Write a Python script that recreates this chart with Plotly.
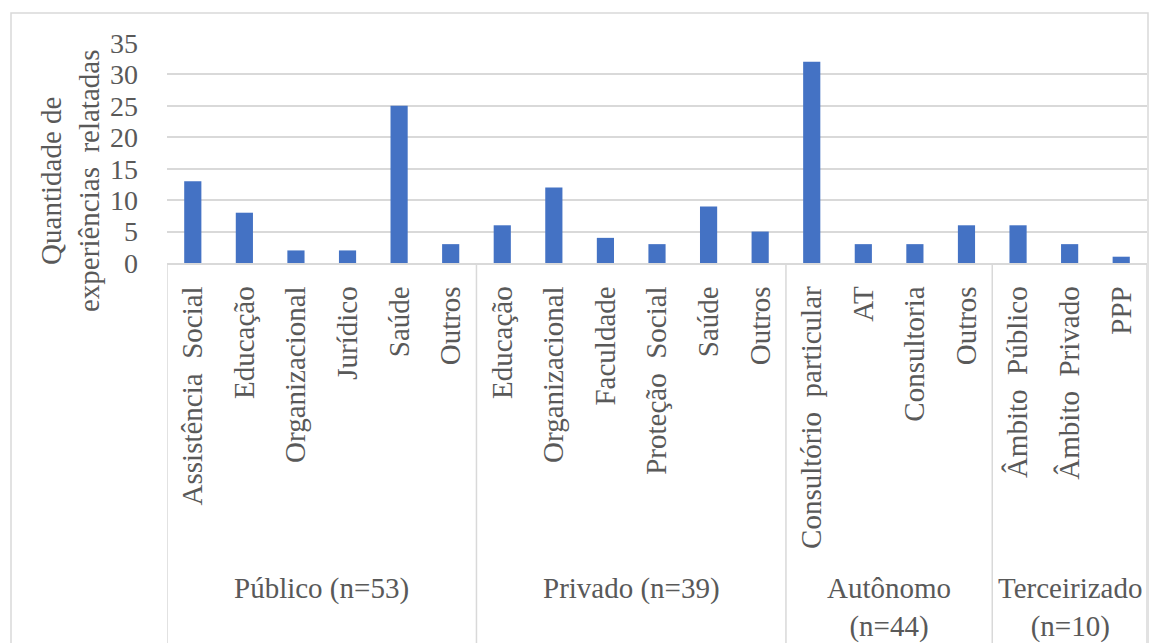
import plotly.graph_objects as go

groups = ["Público (n=53)", "Privado (n=39)", "Autônomo<br>(n=44)", "Terceirizado<br>(n=10)"]
group_sizes = [6, 6, 4, 3]
categories = [
    "Assistência  Social", "Educação", "Organizacional", "Jurídico", "Saúde", "Outros",
    "Educação", "Organizacional", "Faculdade", "Proteção  Social", "Saúde", "Outros",
    "Consultório  particular", "AT", "Consultoria", "Outros",
    "Âmbito  Público", "Âmbito  Privado", "PPP",
]
values = [13, 8, 2, 2, 25, 3,
          6, 12, 4, 3, 9, 5,
          32, 3, 3, 6,
          6, 3, 1]
y_ticks = [0, 5, 10, 15, 20, 25, 30, 35]
y_title = "Quantidade de<br>experiências  relatadas"

W, H = 1149, 643
L, R, T, B = 167, 2, 43, 380
pw, ph = W - L - R, H - T - B

def px_x(p):
    return (p - L) / pw

def px_y(p):
    return (H - B - p) / ph

FONT = "Liberation Serif"
GREY = "#595959"
LINE = "#D9D9D9"

xs = list(range(len(categories)))

fig = go.Figure(go.Bar(
    x=xs, y=values, marker=dict(color="#4472C4", line=dict(width=0)),
    hoverinfo="skip",
))

shapes = []
# outer chart frame
shapes.append(dict(type="rect", xref="paper", yref="paper",
                   x0=px_x(11), x1=px_x(1148), y0=px_y(700), y1=px_y(13),
                   line=dict(color=LINE, width=1.5), layer="below"))
# category-axis box lines: left, group separators, right
bounds = [-0.5]
acc = -0.5
for s in group_sizes:
    acc += s
    bounds.append(acc)
for b in bounds:
    shapes.append(dict(type="line", xref="x", yref="paper", x0=b, x1=b,
                       y0=0, y1=px_y(660), line=dict(color=LINE, width=1.5)))

annotations = []
start = -0.5
for g, s in zip(groups, group_sizes):
    c = start + s / 2
    annotations.append(dict(x=c, y=px_y(570), xref="x", yref="paper",
                            text=g, showarrow=False, xanchor="center", yanchor="top",
                            font=dict(family=FONT, size=29, color=GREY)))
    start += s

annotations.append(dict(x=px_x(70), y=px_y(181), xref="paper", yref="paper",
                        text=y_title, showarrow=False, textangle=-90,
                        xanchor="center", yanchor="middle",
                        font=dict(family=FONT, size=29, color=GREY)))

fig.update_layout(
    width=W, height=H,
    margin=dict(l=L, r=R, t=T, b=B, autoexpand=False),
    paper_bgcolor="white", plot_bgcolor="white",
    bargap=0.667, showlegend=False,
    shapes=shapes, annotations=annotations,
    xaxis=dict(
        tickmode="array", tickvals=xs, ticktext=categories,
        tickangle=-90, range=[-0.5, len(categories) - 0.5],
        showgrid=False, zeroline=False,
        showline=True, linecolor=LINE, linewidth=1.5,
        ticks="", ticklabelstandoff=10,
        tickfont=dict(family=FONT, size=29, color=GREY),
    ),
    yaxis=dict(
        range=[0, 35], tickmode="array", tickvals=y_ticks,
        showgrid=True, gridcolor=LINE, gridwidth=1.5,
        zeroline=False, showline=False, ticks="",
        ticklabelstandoff=28,
        tickfont=dict(family=FONT, size=28, color=GREY),
    ),
)

fig.write_html("out.html")
